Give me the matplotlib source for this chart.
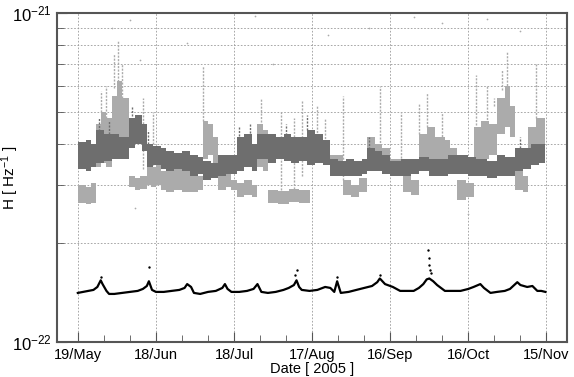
import numpy as np
import matplotlib
matplotlib.use("Agg")
import matplotlib.pyplot as plt
from matplotlib.ticker import FixedLocator, NullFormatter

plt.rcParams['font.family'] = ['Liberation Sans', 'DejaVu Sans']
plt.rcParams['mathtext.fontset'] = 'custom'
plt.rcParams['mathtext.rm'] = 'Liberation Sans'
plt.rcParams['mathtext.default'] = 'regular'

# x = days since 19 May 2005, values in units of 1e-22 Hz^-1
tick_days = [0, 30, 60, 90, 120, 150, 180]
tick_labels = ['19/May', '18/Jun', '18/Jul', '17/Aug', '16/Sep', '16/Oct', '15/Nov']

# light gray band: (day, low, high), step-wise
light_day = [0, 3, 5, 7, 9, 11, 13, 15, 17, 19.5, 22, 24, 26.5, 28, 30, 32, 34, 37, 40, 43, 46,
             48, 50, 52, 54, 57, 59, 61, 64, 67, 69, 71, 73, 77, 81, 85, 89, 93, 97, 102, 105,
             108, 111, 114, 117, 120, 125, 128, 131, 134, 137, 141, 143, 145.5, 149, 152, 155,
             158, 161, 164, 166, 168, 171, 173, 176, 179.6]
light_lo = [2.65, 2.62, 2.65, 3.4, 3.5, 3.4, 3.6, 3.7, 3.6, 2.95, 2.9, 2.92, 3.0, 2.95, 3.0, 2.9,
            2.85, 2.9, 2.85, 2.85, 2.9, 3.6, 3.7, 3.5, 2.9, 2.95, 2.9, 2.75, 2.8, 2.75, 3.4, 3.3,
            2.65, 2.63, 2.66, 2.64, 3.6, 3.5, 3.3, 2.8, 2.75, 2.85, 3.6, 3.5, 3.4, 3.3, 2.85, 2.8,
            3.4, 3.5, 3.4, 3.5, 3.4, 2.7, 2.75, 3.5, 3.6, 3.7, 4.3, 4.5, 4.2, 2.9, 2.85, 3.6, 3.8,
            3.8]
light_hi = [3.0, 2.95, 3.05, 4.6, 5.0, 4.8, 5.6, 6.2, 5.5, 3.2, 3.15, 3.2, 3.6, 3.4, 3.5, 3.3,
            3.35, 3.4, 3.3, 3.2, 3.2, 4.7, 4.6, 4.2, 3.2, 3.25, 3.1, 3.05, 3.1, 3.0, 4.6, 4.4,
            2.9, 2.88, 2.92, 2.9, 4.1, 4.0, 3.7, 3.1, 3.0, 3.15, 4.2, 4.0, 3.9, 3.6, 3.2, 3.1,
            4.3, 4.5, 4.2, 4.1, 3.9, 3.1, 3.05, 4.5, 4.7, 4.6, 5.5, 6.0, 5.2, 3.3, 3.2, 4.5, 4.8,
            4.8]

# dark gray band
dark_day = [0, 3, 5, 7, 10, 13, 16, 19.5, 22, 24.5, 26.6, 29, 32, 34, 37, 40, 43, 46, 48, 51,
            54, 57, 61, 64, 67, 69, 73, 76, 79, 82, 85, 88, 91, 94, 97, 100, 103, 106, 109, 111,
            114, 117, 120, 124, 128, 131, 135, 139, 142, 146, 150, 153, 157, 161, 164, 168, 171,
            174, 177, 179.6]
dark_lo = [3.35, 3.3, 3.4, 3.5, 3.55, 3.6, 3.6, 3.9, 4.0, 3.8, 3.4, 3.45, 3.35, 3.3, 3.35, 3.3,
           3.2, 3.25, 3.1, 3.15, 3.2, 3.25, 3.3, 3.4, 3.3, 3.6, 3.5, 3.6, 3.55, 3.5, 3.55, 3.45,
           3.5, 3.45, 3.2, 3.2, 3.2, 3.2, 3.25, 3.3, 3.3, 3.25, 3.2, 3.2, 3.25, 3.3, 3.2, 3.2,
           3.25, 3.25, 3.2, 3.2, 3.15, 3.2, 3.2, 3.3, 3.35, 3.45, 3.5, 3.5]
dark_hi = [4.05, 4.1, 4.0, 4.4, 4.3, 4.3, 4.2, 4.8, 4.9, 4.6, 4.0, 3.95, 3.9, 3.8, 3.75, 3.8,
           3.7, 3.65, 3.55, 3.5, 3.7, 3.7, 4.2, 4.3, 4.0, 4.3, 4.3, 4.2, 4.3, 4.2, 4.2, 4.4,
           4.3, 4.1, 3.6, 3.55, 3.6, 3.55, 3.6, 3.9, 3.8, 3.7, 3.55, 3.6, 3.6, 3.65, 3.6, 3.6,
           3.7, 3.7, 3.65, 3.6, 3.55, 3.7, 3.65, 3.9, 3.9, 4.0, 4.0, 4.0]

# light gray spikes (day, top)
spike_day = [9, 11, 14, 15.5, 17, 25, 29, 48, 70.5, 78, 83, 86, 92, 95, 102, 116, 124, 131,
             134, 140, 153, 157, 160, 163, 165, 176]
spike_top = [5.8, 6.0, 7.5, 8.3, 7.0, 5.5, 5.0, 6.9, 5.5, 5.0, 4.8, 5.4, 5.2, 4.8, 5.6, 6.0,
             5.0, 5.3, 5.7, 5.0, 6.5, 6.0, 5.5, 6.7, 7.6, 7.0]

# dark gray spikes (day, top)
dspike_day = [8, 12, 21, 27, 62, 66, 80, 88, 112, 170]
dspike_top = [4.8, 4.7, 5.2, 4.4, 4.5, 4.6, 4.6, 4.9, 4.2, 4.2]

# scattered outliers
out_day = [13, 20, 24, 42, 68, 75, 96, 112, 129, 140, 157, 170, 22, 60, 150]
out_val = [9.0, 9.5, 7.2, 8.1, 9.8, 7.0, 8.6, 9.0, 9.7, 9.3, 9.6, 8.8, 2.55, 2.5, 2.45]

# black series
black_day = [0, 2, 4, 6, 7.5, 8.8, 9.5, 11, 12, 14, 17, 20, 23, 25, 26.5, 27.3, 28.5, 30, 33,
             36, 39, 41, 42, 43.5, 44.6, 47, 50, 53, 55.5, 56.5, 57.5, 59, 62, 65, 67.5, 69,
             70.5, 73, 76, 79, 81, 83, 84, 85, 86, 89, 92, 95, 97, 98.5, 99.6, 101, 104, 107,
             110, 113, 115, 116, 118, 121, 123.8, 126, 129, 131, 132.7, 134, 135, 136.5, 138,
             141, 144, 147, 150, 152, 154.6, 156, 158.5, 161, 164, 166, 168.8, 170, 172.6,
             174.6, 176.5, 178, 179.6]
black_val = [1.41, 1.42, 1.43, 1.44, 1.47, 1.54, 1.50, 1.43, 1.40, 1.40, 1.41, 1.42, 1.43,
             1.45, 1.48, 1.53, 1.44, 1.42, 1.42, 1.43, 1.44, 1.46, 1.50, 1.47, 1.41, 1.40,
             1.42, 1.43, 1.46, 1.50, 1.45, 1.42, 1.42, 1.43, 1.45, 1.50, 1.42, 1.41, 1.42,
             1.44, 1.46, 1.49, 1.54, 1.47, 1.44, 1.43, 1.44, 1.47, 1.46, 1.42, 1.53, 1.41,
             1.42, 1.44, 1.46, 1.48, 1.52, 1.56, 1.50, 1.47, 1.43, 1.43, 1.43, 1.46, 1.50,
             1.55, 1.56, 1.53, 1.49, 1.43, 1.43, 1.43, 1.45, 1.47, 1.50, 1.46, 1.41, 1.42,
             1.43, 1.45, 1.52, 1.49, 1.47, 1.48, 1.43, 1.43, 1.42]
black_out_day = [8.8, 27.3, 83.5, 84, 99.6, 116, 134.5, 134.8, 135, 135.3, 135.6]
black_out_val = [1.58, 1.69, 1.60, 1.65, 1.58, 1.60, 1.90, 1.80, 1.72, 1.66, 1.62]

E = 1e-22
LIGHT = '#ababab'
DARK = '#6e6e6e'

fig = plt.figure(figsize=(5.74, 3.77), dpi=100)
ax = fig.add_axes([0.0993, 0.0928, 0.889, 0.8727])

ax.fill_between(light_day, np.array(light_lo) * E, np.array(light_hi) * E, step='post',
                color=LIGHT, lw=0, zorder=2)
sb = np.interp(spike_day, light_day, light_hi)
ax.vlines(spike_day, sb * E, np.array(spike_top) * E, color=LIGHT, lw=1.0,
          linestyle=(0, (1.5, 1)), zorder=2)
ax.scatter(out_day, np.array(out_val) * E, s=1.5, color=LIGHT, lw=0, zorder=2)
ax.fill_between(dark_day, np.array(dark_lo) * E, np.array(dark_hi) * E, step='post',
                color=DARK, lw=0, zorder=3)
db = np.interp(dspike_day, dark_day, dark_hi)
ax.vlines(dspike_day, db * E, np.array(dspike_top) * E, color=DARK, lw=1.0,
          linestyle=(0, (1.5, 1)), zorder=3)

ax.plot(black_day, np.array(black_val) * E, color='black', lw=1.6, zorder=4)
ax.scatter(black_out_day, np.array(black_out_val) * E, s=3, color='black', lw=0, zorder=4)

ax.set_yscale('log')
ax.set_ylim(1e-22, 1e-21)
ax.set_xlim(-8, 188)

ax.xaxis.set_major_locator(FixedLocator(tick_days))
ax.set_xticklabels(tick_labels)
ax.xaxis.set_minor_locator(FixedLocator(np.arange(-10, 190, 10)))
ax.yaxis.set_major_locator(FixedLocator([1e-22, 1e-21]))
ax.set_yticklabels([r'10$^{-22}$', r'10$^{-21}$'], fontsize=12)
ax.yaxis.set_minor_locator(FixedLocator(np.arange(2, 10) * E))
ax.yaxis.set_minor_formatter(NullFormatter())

ax.tick_params(which='both', direction='in', labelsize=10.5, color='#555555')
ax.tick_params(axis='y', labelsize=12)
ax.tick_params(axis='x', which='major', pad=4)
ax.tick_params(which='major', length=7)
ax.tick_params(which='minor', length=5)
ax.grid(True, which='major', axis='x', linestyle=(0, (2, 2)), color='#999999', lw=0.6)
ax.grid(True, which='minor', axis='y', linestyle=(0, (2, 2)), color='#999999', lw=0.6)
for s in ax.spines.values():
    s.set_color('#555555')
    s.set_linewidth(1.5)

ax.set_xlabel('Date [ 2005 ]', fontsize=10.5, labelpad=0)
ax.set_ylabel(r'H [ Hz$^{-1}$ ]', fontsize=11)
ax.yaxis.set_label_coords(-0.07, 0.5)

fig.savefig('out.png', dpi=100)
